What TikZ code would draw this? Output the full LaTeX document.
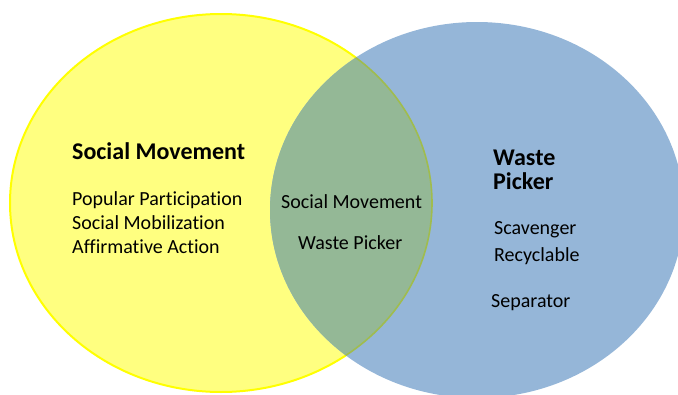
\documentclass[tikz,border=0pt]{standalone}
\usepackage{fontspec}
\setmainfont{Carlito}[Ligatures=NoCommon]
\definecolor{yfill}{HTML}{FFFF80}
\definecolor{yline}{HTML}{FFFF00}
\definecolor{bfill}{HTML}{95B6D8}
\definecolor{ovfill}{HTML}{94B896}
\definecolor{oline}{HTML}{A0BC4E}
\tikzset{
  txt/.style={anchor=base west, inner sep=0pt, font=\fontsize{20}{24}\selectfont},
  btxt/.style={anchor=base west, inner sep=0pt, font=\fontsize{24}{28}\selectfont\bfseries},
}
\begin{document}
\begin{tikzpicture}[x=1pt,y=-1pt]
\useasboundingbox (0,0) rectangle (678,394);
% yellow set
\fill[yfill] (221,203) ellipse [x radius=211, y radius=189];
\draw[yline, line width=2pt] (221,203) ellipse [x radius=211, y radius=189];
% blue set
\fill[bfill] (477,210) ellipse [x radius=207, y radius=188];
% overlap
\begin{scope}
  \clip (221,203) ellipse [x radius=211, y radius=189];
  \fill[ovfill] (477,210) ellipse [x radius=207, y radius=188];
\end{scope}
\begin{scope}
  \clip (477,210) ellipse [x radius=207, y radius=188];
  \draw[oline, line width=1.6pt] (221,203) ellipse [x radius=211, y radius=189];
\end{scope}
% left texts
\node[btxt] (smTitle) at (72,159) {Social Movement};
\node[txt] (pp) at (72,205) {Popular Participation};
\node[txt] (smob) at (72,229) {Social Mobilization};
\node[txt] (aa) at (72,253) {Affirmative Action};
% middle texts
\node[txt] (mid1) at (281,208) {Social Movement};
\node[txt] (mid2) at (298,249) {Waste Picker};
% right texts
\node[btxt] (wp1) at (493,165) {Waste};
\node[btxt] (wp2) at (493,189) {Picker};
\node[txt] (scav) at (494,234) {Scavenger};
\node[txt] (recy) at (494,261) {Recyclable};
\node[txt] (sep) at (491,307) {Separator};
\end{tikzpicture}
\end{document}
